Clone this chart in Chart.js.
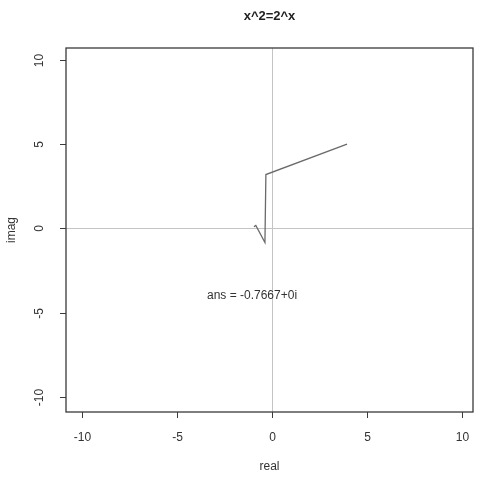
<!DOCTYPE html>
<html>
<head>
<meta charset="utf-8">
<script src="https://cdn.jsdelivr.net/npm/chart.js@4/dist/chart.umd.min.js"></script>
<style>
  html, body { margin: 0; padding: 0; background: #fff; }
  #wrap { width: 477px; height: 477px; }
</style>
</head>
<body>
<div id="wrap"><canvas id="plot" width="477" height="477"></canvas></div>
<script>
// Dữ liệu
const pathReal = [3.95, -0.32, -0.37, -0.85, -0.95];
const pathImag = [5.0, 3.2, -0.83, 0.18, 0.1];
const xTicks = [-10, -5, 0, 5, 10];
const yTicks = [-10, -5, 0, 5, 10];
const titleText = 'x^2=2^x';
const xLabel = 'real';
const yLabel = 'imag';
const answerText = 'ans = -0.7667+0i';
const answerPos = [-1.05, -4.0];

const FONT = '"Liberation Sans", Arial, sans-serif';

// Vẽ khung, trục, nhãn kiểu R
const rStyle = {
    id: 'rStyle',
    beforeDatasetsDraw(chart) {
        const { ctx, chartArea: a, scales: { x, y } } = chart;
        ctx.save();
        ctx.strokeStyle = '#c4c4c4';
        ctx.lineWidth = 1;
        const x0 = Math.round(x.getPixelForValue(0)) + 0.5;
        const y0 = Math.round(y.getPixelForValue(0)) + 0.5;
        ctx.beginPath();
        ctx.moveTo(a.left, y0); ctx.lineTo(a.right, y0);
        ctx.moveTo(x0, a.top); ctx.lineTo(x0, a.bottom);
        ctx.stroke();
        ctx.restore();
    },
    afterDraw(chart) {
        const { ctx, chartArea: a, scales: { x, y } } = chart;
        ctx.save();
        ctx.strokeStyle = '#3a3a3a';
        ctx.lineWidth = 1.3;
        ctx.strokeRect(a.left, a.top, a.right - a.left, a.bottom - a.top);

        ctx.fillStyle = '#333';
        ctx.font = '12px ' + FONT;
        ctx.textAlign = 'center';
        ctx.textBaseline = 'middle';
        ctx.lineWidth = 1;
        xTicks.forEach(v => {
            const px = Math.round(x.getPixelForValue(v)) + 0.5;
            ctx.beginPath();
            ctx.moveTo(px, a.bottom); ctx.lineTo(px, a.bottom + 6);
            ctx.stroke();
            ctx.fillText(String(v), px, a.bottom + 26);
        });
        yTicks.forEach(v => {
            const py = Math.round(y.getPixelForValue(v)) + 0.5;
            ctx.beginPath();
            ctx.moveTo(a.left, py); ctx.lineTo(a.left - 6, py);
            ctx.stroke();
            ctx.save();
            ctx.translate(a.left - 26, py);
            ctx.rotate(-Math.PI / 2);
            ctx.fillText(String(v), 0, 0);
            ctx.restore();
        });

        ctx.fillText(xLabel, (a.left + a.right) / 2, 467);
        ctx.save();
        ctx.translate(12, (a.top + a.bottom) / 2);
        ctx.rotate(-Math.PI / 2);
        ctx.fillText(yLabel, 0, 0);
        ctx.restore();

        ctx.fillText(answerText, x.getPixelForValue(answerPos[0]), y.getPixelForValue(answerPos[1]));

        ctx.font = 'bold 13px ' + FONT;
        ctx.fillStyle = '#222';
        ctx.fillText(titleText, (a.left + a.right) / 2, 16);
        ctx.restore();
    }
};

new Chart(document.getElementById('plot'), {
    type: 'scatter',
    data: {
        datasets: [{
            data: pathReal.map((v, i) => ({ x: v, y: pathImag[i] })),
            showLine: true,
            borderColor: '#6a6a6a',
            borderWidth: 1.3,
            pointRadius: 0,
            tension: 0
        }]
    },
    options: {
        responsive: false,
        animation: false,
        layout: { padding: { left: 66, right: 4, top: 48, bottom: 65 } },
        plugins: { legend: { display: false }, tooltip: { enabled: false } },
        scales: {
            x: { type: 'linear', display: false, min: -10.84, max: 10.58 },
            y: { type: 'linear', display: false, min: -10.89, max: 10.71 }
        }
    },
    plugins: [rStyle]
});
</script>
</body>
</html>
